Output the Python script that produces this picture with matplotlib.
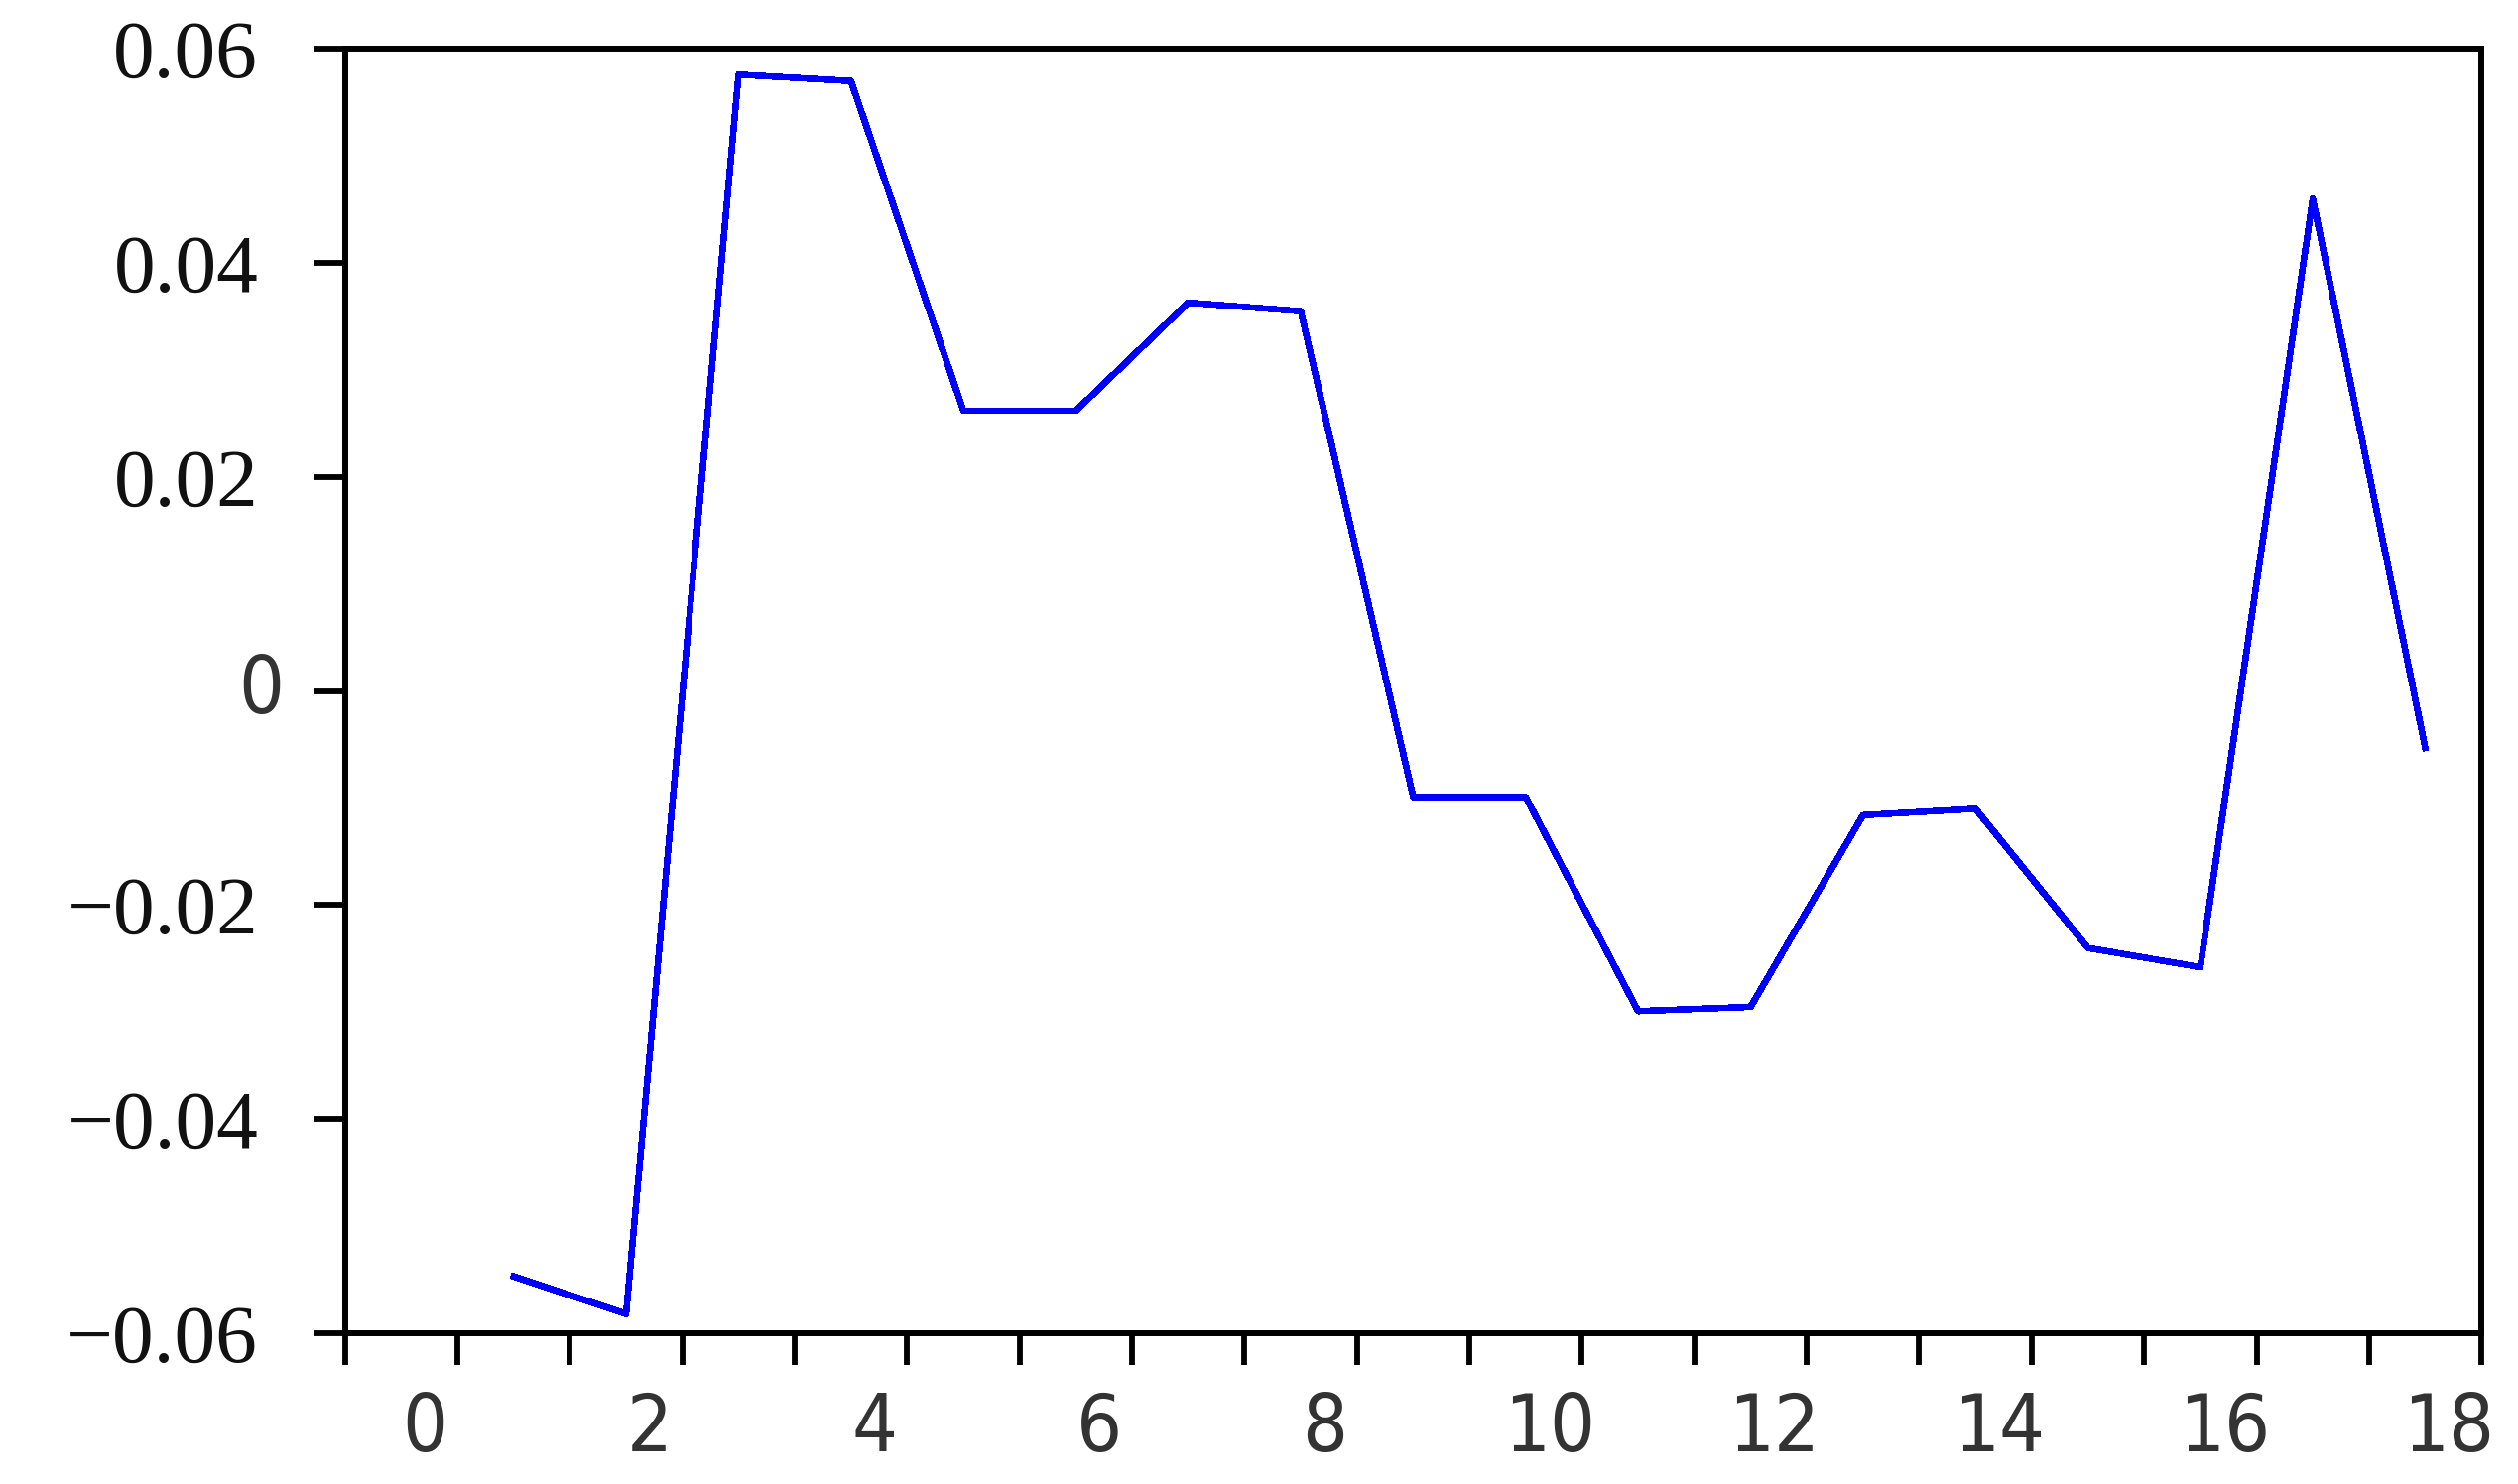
import numpy as np
import matplotlib
matplotlib.use("Agg")
import matplotlib.pyplot as plt
from matplotlib.transforms import ScaledTranslation

obs = [1, 2, 3, 4, 5, 6, 7, 8, 9, 10, 11, 12, 13, 14, 15, 16, 17, 18]
vals = [-0.0547, -0.0582, 0.0576, 0.0570, 0.0262, 0.0262, 0.0363, 0.0355,
        -0.0099, -0.0099, -0.0299, -0.0295, -0.0116, -0.0110, -0.0240,
        -0.0258, 0.0460, -0.0053]

xlabels = [0, 2, 4, 6, 8, 10, 12, 14, 16, 18]
yticks = [-0.06, -0.04, -0.02, 0, 0.02, 0.04, 0.06]
ylabels = ['\u22120.06', '\u22120.04', '\u22120.02', '0', '0.02', '0.04', '0.06']

narrow = ['Liberation Sans Narrow', 'DejaVu Sans']

fig = plt.figure(figsize=(25.38, 14.96), dpi=100)
ax = fig.add_axes([0.137, 0.1016, 0.8485, 0.8654])

ax.plot(obs, vals, color='#0000ff', lw=4.0, antialiased=False)

ax.set_xlim(-0.5, 18.5)
ax.set_ylim(-0.06, 0.06)

# labels sit between the tick marks
ax.set_xticks(xlabels)
ax.set_xticklabels([str(v) for v in xlabels], family=narrow, fontstretch='condensed',
                   fontsize=58, color='#333333')
ax.set_xticks(np.arange(-0.5, 18.6, 1.0), minor=True)
ax.tick_params(axis='x', which='major', length=0, pad=42)
ax.tick_params(axis='x', which='minor', length=23, width=4.2, direction='out')
off = ScaledTranslation(0.24, 0, fig.dpi_scale_trans)
for lab in ax.get_xticklabels():
    lab.set_transform(lab.get_transform() + off)

ax.set_yticks(yticks)
ax.set_yticklabels(ylabels, family=['Liberation Serif', 'DejaVu Serif'], fontsize=60, color='#111111')
ax.tick_params(axis='y', length=23, width=4.2, direction='out', pad=40)
# the zero label is in the narrow face and sits a bit closer to the axis
zero = ax.get_yticklabels()[3]
zero.set_family(narrow)
zero.set_fontstretch('condensed')
zero.set_color('#333333')
zero.set_fontsize(58)
zero.set_transform(zero.get_transform() + ScaledTranslation(0.26, 0.08, fig.dpi_scale_trans))

for s in ax.spines.values():
    s.set_linewidth(4.3)
    s.set_color('black')

fig.savefig('out.png', dpi=100)
